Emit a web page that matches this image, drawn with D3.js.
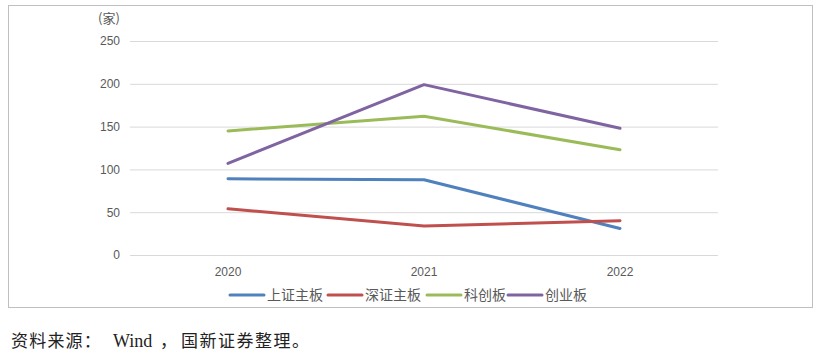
<!DOCTYPE html>
<html><head><meta charset="utf-8">
<script src="https://cdn.jsdelivr.net/npm/d3@7"></script>
<style>body{margin:0;background:#fff;}svg{display:block;}</style>
</head><body>
<svg id="c" width="822" height="359"></svg>
<script>
const categories = ["2020", "2021", "2022"];
const seriesNames = ["上证主板", "深证主板", "科创板", "创业板"];
const shMain = [89, 88, 31];
const szMain = [54, 34, 40];
const star = [145, 162, 123];
const gem = [107, 199, 148];
const yTicks = [0, 50, 100, 150, 200, 250];
const colors = ["#4F81BD", "#C0504D", "#9BBB59", "#8064A2"];
const seriesValues = [shMain, szMain, star, gem];

const svg = d3.select("#c");
svg.append("rect").attr("x", 8.5).attr("y", 5.5).attr("width", 804).attr("height", 302)
  .attr("fill", "#fff").attr("stroke", "#bfbfbf").attr("stroke-width", 1);

const x = d3.scaleBand().domain(categories).range([130, 718]);
const y = d3.scaleLinear().domain([0, 250]).range([255, 41]);

const gy = svg.append("g").attr("transform", "translate(130,0)")
  .call(d3.axisLeft(y).tickValues(yTicks).tickSize(-588).tickPadding(10));
gy.select(".domain").remove();
gy.selectAll(".tick line").attr("stroke", "#d9d9d9").attr("stroke-width", 1);
gy.selectAll(".tick text").attr("fill", "#595959").attr("font-size", 12)
  .attr("font-family", "Liberation Sans, Arial, sans-serif");

const gx = svg.append("g").attr("transform", "translate(0,255)")
  .call(d3.axisBottom(x).tickSize(0).tickPadding(12));
gx.select(".domain").remove();
gx.selectAll(".tick text").attr("fill", "#595959").attr("font-size", 12)
  .attr("font-family", "Liberation Sans, Arial, sans-serif");

svg.append("text").attr("x", 109).attr("y", 23).attr("text-anchor", "middle")
  .attr("fill", "#595959").attr("font-size", 13)
  .attr("font-family", "Noto Sans CJK SC, sans-serif").text("(家)");

const line = d3.line().x((d, i) => x(categories[i]) + x.bandwidth() / 2).y(d => y(d));
seriesValues.forEach((vals, i) => {
  svg.append("path").datum(vals).attr("d", line).attr("fill", "none")
    .attr("stroke", colors[i]).attr("stroke-width", 3).attr("stroke-linecap", "round")
    .attr("stroke-linejoin", "round");
});

const legendX = [230, 328, 427, 508];
seriesNames.forEach((n, i) => {
  const g = svg.append("g").attr("transform", `translate(${legendX[i]},295)`);
  g.append("line").attr("x1", 0).attr("x2", 34).attr("y1", 0).attr("y2", 0)
    .attr("stroke", colors[i]).attr("stroke-width", 3).attr("stroke-linecap", "round");
  g.append("text").attr("x", 37).attr("y", 5).attr("fill", "#595959").attr("font-size", 14)
    .attr("font-family", "Noto Sans CJK SC, sans-serif").text(n);
});

const src = svg.append("text").attr("y", 347).attr("fill", "#222").attr("font-size", 17)
  .attr("font-family", "Liberation Serif, Noto Sans CJK SC, serif");
src.append("tspan").attr("x", 11).attr("letter-spacing", 1.2).text("资料来源：");
src.append("tspan").attr("x", 113).attr("font-size", 18).text("Wind");
src.append("tspan").attr("x", 160).text("，");
src.append("tspan").attr("x", 181).attr("letter-spacing", 1.5).text("国新证券整理。");
</script>
</body></html>
